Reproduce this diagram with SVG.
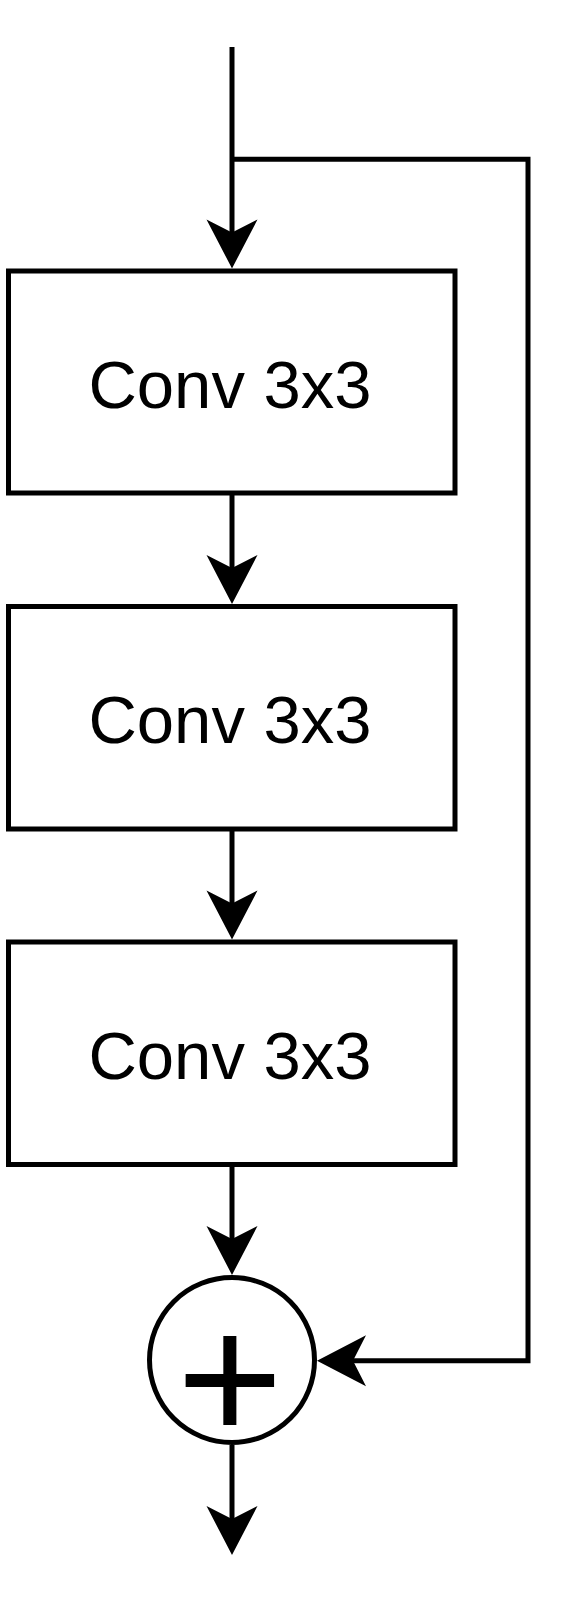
<svg xmlns="http://www.w3.org/2000/svg" xmlns:xlink="http://www.w3.org/1999/xlink" width="582" height="1603" viewBox="0 0 582 1603">
<style>
.box{fill:#fff;stroke:#000;stroke-width:5}
.lbl{font-family:"Liberation Sans",Arial,sans-serif;font-size:67px;fill:#000;text-anchor:middle}
.edge{fill:none;stroke:#000;stroke-width:5}
.head{fill:#000;stroke:none}
</style>
<defs>
<path id="ah" d="M0 0 L-25.5 -49 L0 -36 L25.5 -49 Z"/>
</defs>
<rect width="582" height="1603" fill="#fff"/>
<g id="connectors">
<path class="edge" d="M232 47 V240"/>
<path class="edge" d="M232 159.3 H528 V1360.7 H340"/>
<path class="edge" d="M232 493 V575"/>
<path class="edge" d="M232 829 V910"/>
<path class="edge" d="M232 1164.5 V1245"/>
<path class="edge" d="M232 1445 V1525"/>
<use xlink:href="#ah" class="head" transform="translate(232 268.5)"/>
<use xlink:href="#ah" class="head" transform="translate(232 604)"/>
<use xlink:href="#ah" class="head" transform="translate(232 939.5)"/>
<use xlink:href="#ah" class="head" transform="translate(232 1275)"/>
<use xlink:href="#ah" class="head" transform="translate(232 1555)"/>
<use xlink:href="#ah" class="head" transform="translate(317 1360.7) rotate(90)"/>
</g>
<g id="conv1">
<rect class="box" x="8.5" y="271" width="446.5" height="222"/>
<text class="lbl" x="230" y="407.5">Conv 3x3</text>
</g>
<g id="conv2">
<rect class="box" x="8.5" y="606.5" width="446.5" height="222.5"/>
<text class="lbl" x="230" y="743.3">Conv 3x3</text>
</g>
<g id="conv3">
<rect class="box" x="8.5" y="942" width="446.5" height="222.5"/>
<text class="lbl" x="230" y="1078.8">Conv 3x3</text>
</g>
<g id="sum">
<circle cx="232" cy="1360" r="82.5" fill="#fff" stroke="#000" stroke-width="5"/>
<text x="230" y="1440.5" font-family="'Liberation Sans',Arial,sans-serif" font-size="182" text-anchor="middle" fill="#000">+</text>
</g>
</svg>
